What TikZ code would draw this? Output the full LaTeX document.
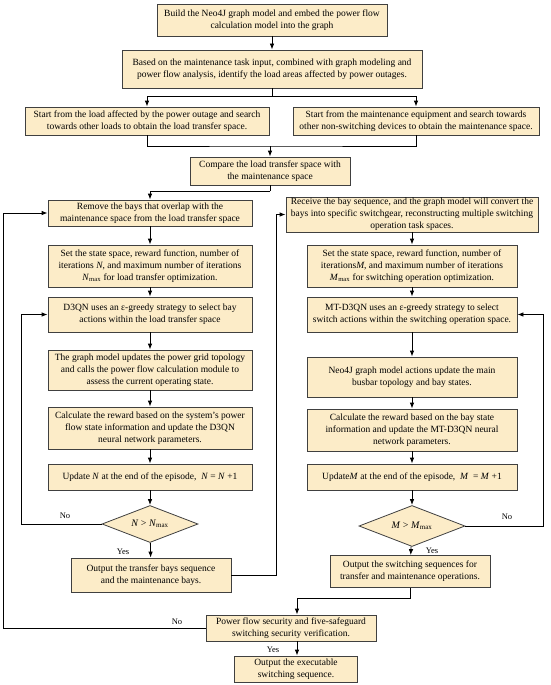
\documentclass[tikz,border=0pt]{standalone}
\usepackage{fontspec}
\setmainfont{Liberation Serif}
\usetikzlibrary{arrows.meta,shapes.geometric}
\definecolor{boxfill}{RGB}{252,236,200}
\definecolor{boxline}{RGB}{64,64,64}
\newcommand{\vN}{\textit{N}}
\newcommand{\vM}{\textit{M}}
\newcommand{\vNmax}{\textit{N}\textsubscript{max}}
\newcommand{\vMmax}{\textit{M}\textsubscript{max}}
\tikzset{
  box/.style={draw=boxline, fill=boxfill, line width=0.8pt, align=center, inner sep=1pt,
    font=\fontsize{9.5}{12}\selectfont},
  dia/.style={draw=boxline, fill=boxfill, line width=0.8pt, diamond, aspect=2.6, inner sep=0pt,
    font=\fontsize{10}{12}\selectfont},
  arr/.style={line width=0.8pt, -{Latex[length=6pt,width=4.5pt]}},
  ln/.style={line width=0.8pt},
  lab/.style={font=\fontsize{8.5}{10}\selectfont}
}
\begin{document}
\begin{tikzpicture}[x=1pt,y=-1pt]
\useasboundingbox (0,0) rectangle (550,685);
% top
\node[box, minimum width=230, minimum height=32] (b1) at (272,20) {Build the Neo4J graph model and embed the power flow\\calculation model into the graph};
\node[box, minimum width=300, minimum height=38] (b2) at (272,69) {Based on the maintenance task input, combined with graph modeling and\\power flow analysis, identify the load areas affected by power outages.};
\node[box, minimum width=244, minimum height=28] (b3) at (147,121) {Start from the load affected by the power outage and search\\towards other loads to obtain the load transfer space.};
\node[box, minimum width=246, minimum height=28] (b4) at (416,121) {Start from the maintenance equipment and search towards\\other non-switching devices to obtain the maintenance space.};
\node[box, minimum width=160, minimum height=28] (b5) at (270,171) {Compare the load transfer space with\\the maintenance space};
% left column
\node[box, minimum width=204, minimum height=26] (L1) at (150,213) {Remove the bays that overlap with the\\maintenance space from the load transfer space};
\node[box, minimum width=204, minimum height=42] (L2) at (150,266) {Set the state space, reward function, number of\\iterations \vN, and maximum number of iterations\\\vNmax\ for load transfer optimization.};
\node[box, minimum width=204, minimum height=35] (L3) at (150,314.5) {D3QN uses an ε-greedy strategy to select bay\\actions within the load transfer space};
\node[box, minimum width=204, minimum height=40] (L4) at (150,370) {The graph model updates the power grid topology\\and calls the power flow calculation module to\\assess the current operating state.};
\node[box, minimum width=204, minimum height=42] (L5) at (150,428) {Calculate the reward based on the system's power\\flow state information and update the D3QN\\neural network parameters.};
\node[box, minimum width=204, minimum height=26] (L6) at (150,477) {Update \vN\ at the end of the episode,\ \ \vN\ = \vN\ +1};
\node[dia, minimum width=96, minimum height=37] (L7) at (150,524) {\vN\ > \vNmax};
\node[box, minimum width=160, minimum height=34] (L8) at (151,575) {Output the transfer bays sequence\\and the maintenance bays.};
% right column
\node[box, minimum width=252, minimum height=35] (R1) at (412,214.5) {Receive the bay sequence, and the graph model will convert the\\bays into specific switchgear, reconstructing multiple switching\\operation task spaces.};
\node[box, minimum width=210, minimum height=42] (R2) at (412,266) {Set the state space, reward function, number of\\iterations\vM, and maximum number of iterations\\\vMmax\ for switching operation optimization.};
\node[box, minimum width=210, minimum height=35] (R3) at (412,314.5) {MT-D3QN uses an ε-greedy strategy to select\\switch actions within the switching operation space.};
\node[box, minimum width=210, minimum height=40] (R4) at (412,377) {Neo4J graph model actions update the main\\busbar topology and bay states.};
\node[box, minimum width=210, minimum height=42] (R5) at (412,430) {Calculate the reward based on the bay state\\information and update the MT-D3QN neural\\network parameters.};
\node[box, minimum width=210, minimum height=26] (R6) at (412,477) {Update\vM\ at the end of the episode,\ \ \vM\ \ = \vM\ +1};
\node[dia, minimum width=106, minimum height=41] (R7) at (412,526) {\vM\ > \vMmax};
\node[box, minimum width=160, minimum height=32] (R8) at (410,571.5) {Output the switching sequences for\\transfer and maintenance operations.};
% bottom
\node[box, minimum width=170, minimum height=26] (P) at (291,628) {Power flow security and five-safeguard\\switching security verification.};
\node[box, minimum width=123, minimum height=26] (F) at (296,669) {Output the executable\\switching sequence.};
% coordinates
\coordinate (j1) at (272,96);
\coordinate (j2) at (270,146);
\coordinate (j3) at (270,191);
\coordinate (cl) at (21,524);
\coordinate (cm) at (276,575);
\coordinate (cr) at (543,526);
\coordinate (cb) at (297,598);
\coordinate (co) at (3,628);
% connectors
\draw[arr] (b1) -- (b2);
\draw[ln] (b2.south) -- (j1);
\draw[arr] (j1) -| (b3.north);
\draw[arr] (j1) -| (b4.north);
\draw[ln] (b3.south) |- (j2) -| (b4.south);
\draw[arr] (j2) -- (b5.north);
\draw[ln] (b5.south) -- (j3);
\draw[arr] (j3) -| (L1.north);
\draw[arr] (L1) -- (L2);
\draw[arr] (L2) -- (L3);
\draw[arr] (L3) -- (L4);
\draw[arr] (L4) -- (L5);
\draw[arr] (L5) -- (L6);
\draw[arr] (L6) -- (L7);
\draw[arr] (L7) -- (L8);
\draw[arr] (L7.west) -- (cl) |- (L3.west);
\draw[arr] (L8.east) -- (cm) |- (R1.west);
\draw[arr] (R1) -- (R2);
\draw[arr] (R2) -- (R3);
\draw[arr] (R3) -- (R4);
\draw[arr] (R4) -- (R5);
\draw[arr] (R5) -- (R6);
\draw[arr] (R6) -- (R7);
\draw[arr] (R7) -- (R8);
\draw[arr] (R7.east) -- (cr) |- (R3.east);
\draw[ln] (R8.south) |- (cb);
\draw[arr] (cb) -- (cb |- P.north);
\draw[arr] (P.west) -- (co) |- (L1.west);
\draw[arr] (cb |- P.south) -- (cb |- F.north);
% labels
\node[lab] (n1) at (65,516) {No};
\node[lab] (y1) at (123,552) {Yes};
\node[lab] (n2) at (507,517) {No};
\node[lab] (y2) at (432,551) {Yes};
\node[lab] (n3) at (177,622) {No};
\node[lab] (y3) at (273,650) {Yes};
\end{tikzpicture}
\end{document}
